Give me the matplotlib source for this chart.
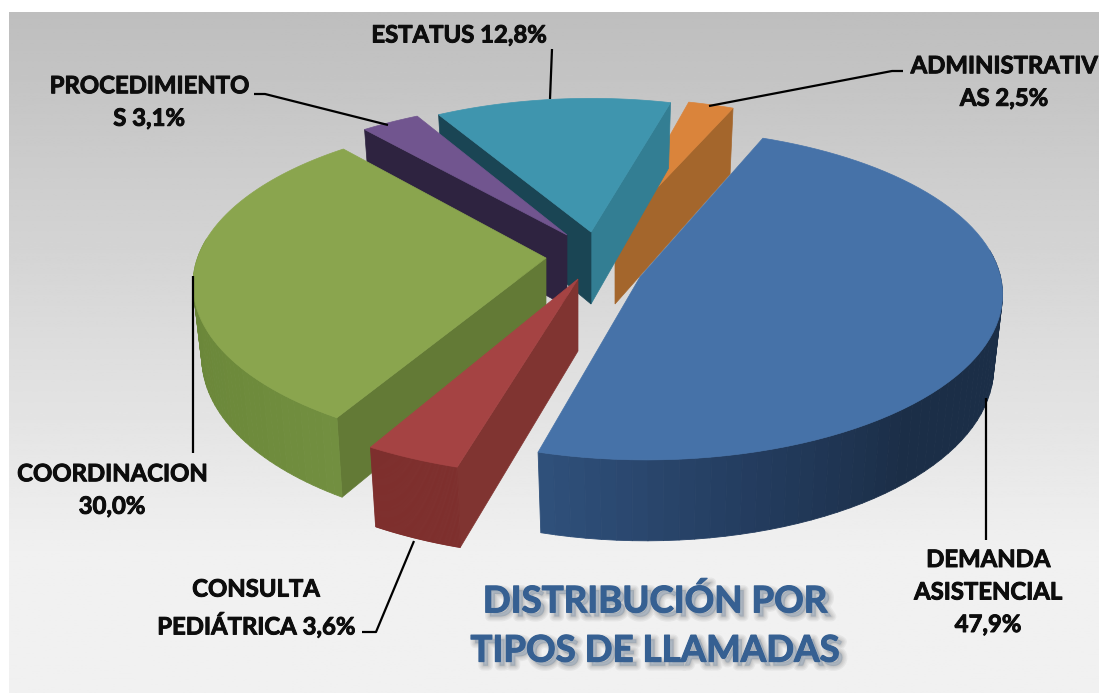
import numpy as np
import matplotlib
matplotlib.use('Agg')
import matplotlib.pyplot as plt
from matplotlib.collections import PolyCollection
from matplotlib.colors import to_rgb
from matplotlib.patches import Polygon
import matplotlib.patheffects as pe

plt.rcParams['font.family'] = ['Lato', 'DejaVu Sans']

# data, clockwise from the top of the pie
categories = ['ADMINISTRATIVAS', 'DEMANDA ASISTENCIAL', 'CONSULTA PEDIÁTRICA',
              'COORDINACION', 'PROCEDIMIENTOS', 'ESTATUS']
values = [2.5, 47.9, 3.6, 30.0, 3.1, 12.8]
label_lines = ['ADMINISTRATIV\nAS', 'DEMANDA\nASISTENCIAL\n', 'CONSULTA\nPEDIÁTRICA',
               'COORDINACION\n', 'PROCEDIMIENTO\nS', 'ESTATUS']
title_text = 'DISTRIBUCIÓN POR\nTIPOS DE LLAMADAS'

# colours
top_colors = ['#da843b', '#4672a8', '#a54343', '#8aa54e', '#71558f', '#3f95ae']
wall_colors = ['#a4662c', '#1b2e47', '#803431', '#637a36', '#2e2340', '#1a4554']
right_wall_colors = ['#a4662c', '#1b2e47', '#803431', '#637a36', '#2e2340', '#337e93']
outer_stops = {1: ['#2f507a', '#243d60', '#1b2e47', '#1b2e47', '#1b2e47'],
               2: ['#7e2f2d', '#7e2f2d'],
               3: ['#728f40', '#6d8a3b', '#6b873a', '#6f8b3c']}

# layout, in pixels
apex = [(615, 232), (646, 268), (578, 279), (546, 258), (567, 235), (591, 232)]
tip = [(615, 232), (640, 277), (578, 279), (546, 258), (567, 235), (591, 232)]
angle_nudge = [0, 1.2, 0, -2, -2.5, -1]
scale_x = [0.96, 1.0, 1.04, 0.99, 1.0, 0.97]
scale_y = [1.0, 1.04, 1.07, 1.04, 1.0, 1.0]
start_angle = 75.4
RX, RY, K, DEPTH, SHRINK = 352, 155, 0.16, 72, 0.975
draw_order = [0, 5, 4, 3, 2, 1]


def project(i, t, low=False):
    u, v = np.cos(t), np.sin(t)
    den = 1 + K * v
    s = SHRINK if low else 1
    x = apex[i][0] + s * scale_x[i] * RX * u / den
    y = apex[i][1] - s * scale_y[i] * RY * v / den
    if low:
        y = y + DEPTH / den
    return x, y


fig = plt.figure(figsize=(10.99, 6.93), dpi=100)
ax = fig.add_axes([0, 0, 1, 1])

# background gradient
grad = np.clip((np.linspace(0, 1, 256)) / 0.805, 0, 1) * (0.945 - 0.745) + 0.745
ax.imshow(np.tile(grad[:, None], (1, 2)), extent=[9, 1099, 693, 12], cmap='gray', vmin=0, vmax=1,
          aspect='auto', zorder=0)
ax.set_xlim(0, 1099)
ax.set_ylim(693, 0)
ax.axis('off')

# slice angles from the values
shares = np.array(values) / sum(values) * 360
ends = start_angle - np.concatenate([[0], np.cumsum(shares)[:-1]]) + np.array(angle_nudge)
starts = ends - shares

z = 1
for i in draw_order:
    c = apex[i]
    a, b = np.radians(starts[i]), np.radians(ends[i])
    ts = np.linspace(a, b, 80)
    tx, ty = project(i, ts)
    bx, by = project(i, ts, low=True)
    c_low = (c[0], c[1] + DEPTH)

    # radial walls, only the ones facing the viewer
    if np.sin(a - np.pi / 2) < 0:
        x1, y1 = project(i, a)
        x2, y2 = project(i, a, low=True)
        ax.add_patch(Polygon([c, (x1, y1), (x2, y2), c_low], fc=right_wall_colors[i], ec=right_wall_colors[i],
                             lw=0.5, zorder=z))
        z += 1
    if np.sin(b + np.pi / 2) < 0:
        x1, y1 = project(i, b)
        x2, y2 = project(i, b, low=True)
        ax.add_patch(Polygon([c, (x1, y1), (x2, y2), c_low], fc=wall_colors[i], ec=wall_colors[i],
                             lw=0.5, zorder=z))
        z += 1

    # outer wall, shaded along the rim
    if i in outer_stops:
        keep = np.where(np.sin(ts) < 0.12)[0]
        stops = np.array([to_rgb(s) for s in outer_stops[i]])
        pos = np.linspace(0, 1, len(keep) - 1)
        xs = np.linspace(0, 1, len(stops))
        if i == 3:
            pos = pos[::-1]
        seg_cols = np.column_stack([np.interp(pos, xs, stops[:, k]) for k in range(3)])
        quads = []
        for n in range(len(keep) - 1):
            j, j2 = keep[n], keep[n + 1]
            quads.append([(tx[j], ty[j]), (tx[j2], ty[j2]), (bx[j2], by[j2]), (bx[j], by[j])])
        ax.add_collection(PolyCollection(quads, facecolors=seg_cols, edgecolors=seg_cols, linewidths=0.6, zorder=z))
        z += 1

    # top face
    pts = [tip[i]] + list(zip(tx, ty))
    ax.add_patch(Polygon(pts, fc=top_colors[i], ec=top_colors[i], lw=0.5, zorder=z))
    z += 1

# leader lines
leaders = [[(709, 106), (892, 71), (903, 71)],
           [(986, 398), (986, 540)],
           [(414, 541), (376, 632), (362, 632)],
           [(193, 276), (193, 453)],
           [(388, 125), (265, 94), (254, 94)],
           [(550, 99), (552, 49)]]
for pts in leaders:
    ax.plot([p[0] for p in pts], [p[1] for p in pts], color='black', lw=1.6, zorder=50,
            solid_capstyle='butt')

# data labels
label_pos = [(1004, 82), (988, 592), (256, 608), (112, 490), (149, 102), (459, 35)]
thick = [pe.withStroke(linewidth=0.7, foreground='#0d0d0d')]
for i, pos in enumerate(label_pos):
    pct = f'{values[i]:.1f}%'.replace('.', ',')
    txt = f'{label_lines[i]} {pct}' if not label_lines[i].endswith('\n') else f'{label_lines[i]}{pct}'
    ax.text(pos[0], pos[1], txt, ha='center', va='center', fontsize=17.2, fontweight='bold',
            color='#0d0d0d', linespacing=1.5, zorder=60, clip_on=True, path_effects=thick)

# title with a soft shadow
shadow = [pe.Stroke(linewidth=w, foreground='#555555', alpha=0.07, offset=(3, -3)) for w in (7, 5, 3, 1.5)]
ax.text(655, 626, title_text, ha='center', va='center', fontsize=26.4, fontweight='bold', color='#366092',
        linespacing=1.6, zorder=60,
        path_effects=shadow + [pe.withStroke(linewidth=0.8, foreground='#366092')])

fig.savefig('out.png', dpi=100)
